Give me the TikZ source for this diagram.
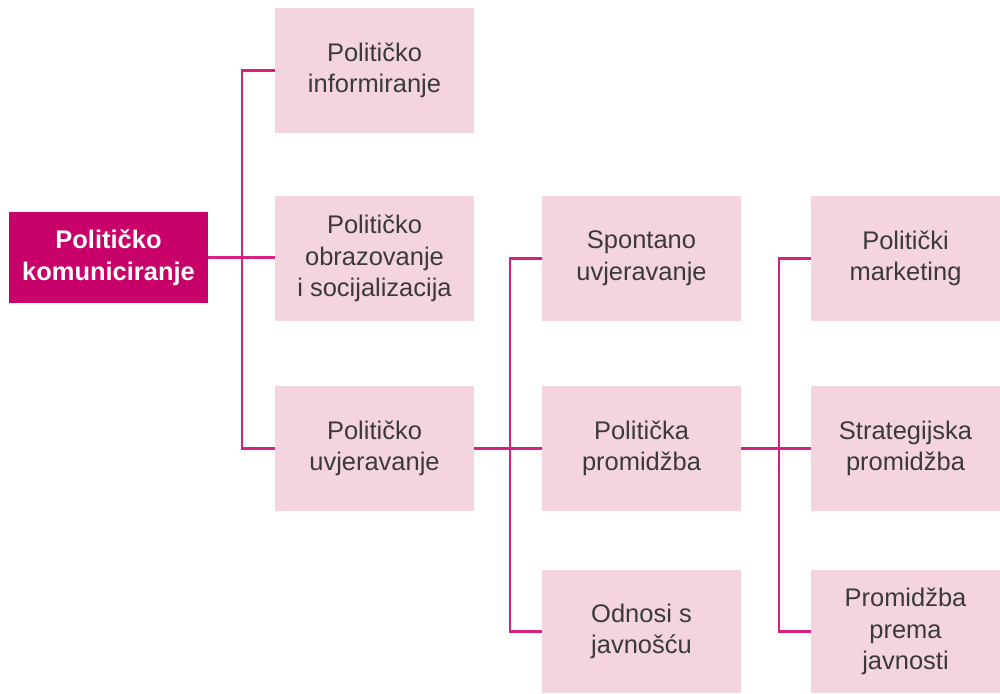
\documentclass[tikz,border=0pt]{standalone}
\usepackage{fontspec}
\setmainfont{Liberation Sans}
\definecolor{boxpink}{HTML}{F4D5DF}
\definecolor{rootmag}{HTML}{C8006A}
\definecolor{linemag}{HTML}{D6217E}
\definecolor{txtgray}{HTML}{3A3A3A}
\begin{document}
\begin{tikzpicture}[x=0.02cm,y=-0.02cm,
  box/.style={fill=boxpink,draw=none,minimum width=3.98cm,minimum height=2.5cm,inner sep=0pt,
    align=center,text=txtgray,font=\fontsize{14.5}{18}\selectfont},
  rootbox/.style={fill=rootmag,draw=none,minimum width=3.98cm,minimum height=1.82cm,inner sep=0pt,
    align=center,text=white,font=\fontsize{14.5}{18}\selectfont\bfseries},
  conn/.style={draw=linemag,line width=1.3pt}]
\useasboundingbox (0,0) rectangle (1000,693);
\node[rootbox] (root) at (108.5,257.5) {Političko\\komuniciranje};
\node[box] (a1) at (374.5,70.5) {Političko\\informiranje};
\node[box] (a2) at (374.5,258.5) {Političko\\obrazovanje\\i socijalizacija};
\node[box] (a3) at (374.5,448.5) {Političko\\uvjeravanje};
\node[box] (b1) at (641.5,258.5) {Spontano\\uvjeravanje};
\node[box] (b2) at (641.5,448.5) {Politička\\promidžba};
\node[box,minimum height=2.46cm] (b3) at (641.5,631.5) {Odnosi s\\javnošću};
\node[box,minimum width=3.78cm] (c1) at (905.5,258.5) {Politički\\marketing};
\node[box,minimum width=3.78cm] (c2) at (905.5,448.5) {Strategijska\\promidžba};
\node[box,minimum width=3.78cm,minimum height=2.46cm] (c3) at (905.5,631.5) {Promidžba\\prema\\javnosti};
\coordinate (j1) at (242,0);
\coordinate (j2) at (510,0);
\coordinate (j3) at (779,0);
\draw[conn] (root.east) -- (root.east -| a2.west);
\draw[conn] (a1.west) -| (j1 |- a3.west) -- (a3.west);
\draw[conn] (a3.east) -- (b2.west);
\draw[conn] (b1.west) -| (j2 |- b3.west) -- (b3.west);
\draw[conn] (b2.east) -- (c2.west);
\draw[conn] (c1.west) -| (j3 |- c3.west) -- (c3.west);
\end{tikzpicture}
\end{document}
